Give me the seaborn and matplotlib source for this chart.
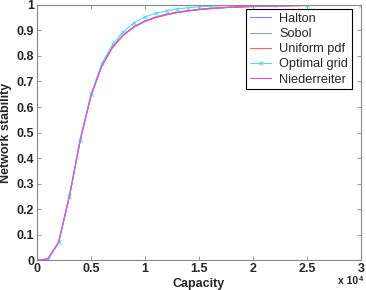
import matplotlib
matplotlib.use("Agg")
import matplotlib.pyplot as plt
import pandas as pd
import seaborn as sns

capacity = [0, 1000, 2000, 3000, 4000, 5000, 6000, 7000, 8000, 9000, 10000, 11000,
            12000, 13000, 14000, 15000, 16000, 18000, 20000, 22000, 25000, 30000]
halton = [0, 0.004, 0.07, 0.25, 0.47, 0.645, 0.762, 0.835, 0.883, 0.915, 0.937, 0.952,
          0.963, 0.971, 0.977, 0.982, 0.986, 0.991, 0.994, 0.996, 0.998, 1.0]
sobol = [0, 0.004, 0.07, 0.25, 0.47, 0.646, 0.763, 0.836, 0.884, 0.916, 0.938, 0.953,
         0.964, 0.972, 0.978, 0.983, 0.987, 0.992, 0.995, 0.997, 0.998, 1.0]
uniform = [0, 0.004, 0.068, 0.248, 0.468, 0.643, 0.760, 0.833, 0.881, 0.913, 0.935, 0.950,
           0.961, 0.970, 0.976, 0.981, 0.985, 0.991, 0.994, 0.996, 0.998, 0.999]
optimal = [0, 0.004, 0.07, 0.25, 0.47, 0.65, 0.77, 0.845, 0.895, 0.93, 0.953, 0.967,
           0.977, 0.984, 0.989, 0.992, 0.995, 0.998, 0.999, 1.0, 1.0, 1.0]
niederreiter = [0, 0.004, 0.069, 0.249, 0.469, 0.644, 0.761, 0.834, 0.882, 0.914, 0.936, 0.951,
                0.962, 0.970, 0.977, 0.982, 0.986, 0.991, 0.994, 0.996, 0.998, 0.999]

series = {
    'Halton': halton,
    'Sobol': sobol,
    'Uniform pdf': uniform,
    'Optimal grid': optimal,
    'Niederreiter': niederreiter,
}
colors = {
    'Halton': '#7a7aff',
    'Sobol': '#8fa88f',
    'Uniform pdf': '#ff5a7a',
    'Optimal grid': '#55dddd',
    'Niederreiter': '#e050e0',
}

sns.set_style('ticks')
plt.rcParams['font.family'] = ['Liberation Sans', 'DejaVu Sans']
plt.rcParams['font.size'] = 9

fig = plt.figure(figsize=(3.66, 2.9), dpi=100)
ax = fig.add_axes([0.101, 0.103, 0.885, 0.880])

for name, vals in series.items():
    df = pd.DataFrame({'Capacity': capacity, 'Stability': vals})
    if name == 'Optimal grid':
        sns.lineplot(data=df, x='Capacity', y='Stability', ax=ax, color=colors[name],
                     linewidth=0.8, marker='x', markersize=3.2, markeredgewidth=0.7,
                     markeredgecolor=colors[name], label=name)
    else:
        sns.lineplot(data=df, x='Capacity', y='Stability', ax=ax, color=colors[name],
                     linewidth=0.8, label=name)

ax.set_xlim(0, 30000)
ax.set_ylim(0, 1)
ax.set_xticks([0, 5000, 10000, 15000, 20000, 25000, 30000])
ax.set_xticklabels(['0', '0.5', '1', '1.5', '2', '2.5', '3'], fontweight='bold')
ax.set_yticks([i / 10 for i in range(11)])
ax.set_yticklabels(['0', '0.1', '0.2', '0.3', '0.4', '0.5', '0.6', '0.7', '0.8', '0.9', '1'],
                   fontweight='bold')
ax.tick_params(direction='in', length=3, width=0.6, color='#888888', top=True, right=True,
               labelsize=9, pad=2)
for sp in ax.spines.values():
    sp.set_color('#888888')
    sp.set_linewidth(0.8)

ax.set_xlabel('Capacity', fontsize=9, fontweight='bold', labelpad=2)
ax.set_ylabel('Network stability', fontsize=9, fontweight='bold', labelpad=3)
# exponent label for the x axis, drawn as two pieces
ax.text(0.991, -0.092, 'x 10', transform=ax.transAxes, ha='right', va='baseline',
        fontsize=7.5, fontweight='bold')
ax.text(0.993, -0.08, '4', transform=ax.transAxes, ha='left', va='baseline',
        fontsize=5.5, fontweight='bold')

leg = ax.legend(loc='upper right', bbox_to_anchor=(0.972, 0.984), fancybox=False,
                framealpha=1, edgecolor='black', fontsize=9.2, handlelength=1.7,
                borderpad=0.3, labelspacing=0.25, handletextpad=0.6, borderaxespad=0)
leg.get_frame().set_linewidth(0.8)

fig.savefig('out.png', dpi=100)
